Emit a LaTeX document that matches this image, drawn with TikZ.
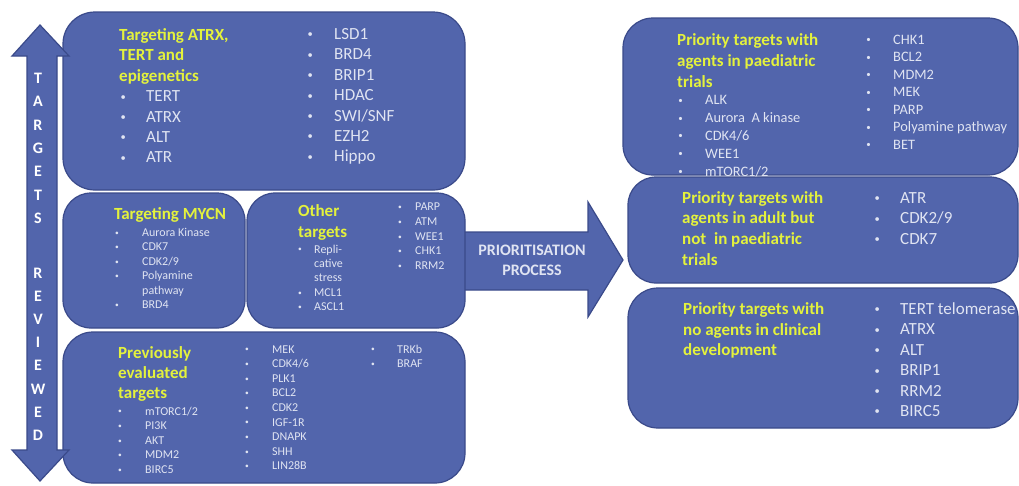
\documentclass[tikz,border=0pt]{standalone}
\usepackage{fontspec}
\setmainfont{Carlito}
\definecolor{panelblue}{RGB}{82,101,172}
\definecolor{paneledge}{RGB}{58,74,138}
\definecolor{headyellow}{RGB}{228,242,60}
\definecolor{itemgrey}{RGB}{224,228,242}
\newcommand{\bul}[2][28pt]{\makebox[#1][l]{\hspace{0.08em}\raisebox{0.1em}{\scalebox{0.62}{\textbullet}}}#2}
\begin{document}
\begin{tikzpicture}[x=1pt,y=-1pt,
    panel/.style={draw=paneledge,line width=1.2pt,fill=panelblue,rounded corners=#1},
    panel/.default=30pt,
    blockarrow/.style={draw=paneledge,line width=1.2pt,fill=panelblue},
    heading/.style={anchor=base west,inner sep=0,text=headyellow,font=\fontsize{17}{20}\selectfont\bfseries},
    itembig/.style={anchor=base west,inner sep=0,text=itemgrey,font=\fontsize{17}{20}\selectfont},
    itemmid/.style={anchor=base west,inner sep=0,text=itemgrey,font=\fontsize{14.4}{17}\selectfont},
    itemsmall/.style={anchor=base west,inner sep=0,text=itemgrey,font=\fontsize{12}{14}\selectfont},
    arrowtext/.style={align=center,inner sep=0,text=itemgrey,font=\fontsize{16}{20}\selectfont\bfseries},
    letter/.style={anchor=base,inner sep=0,text=white,font=\fontsize{16}{19}\selectfont\bfseries}
  ]
  \useasboundingbox (0,0) rectangle (1019,485);
  % prioritisation arrow, behind the panels
  \draw[blockarrow] (460,232) -- (588,232) -- (588,202) -- (623,260) -- (588,317)
    -- (588,290) -- (460,290) -- cycle;
  \node[arrowtext] (proc) at (532,260) {PRIORITISATION\\PROCESS};
  % left panels
  \node[panel=32pt,minimum width=402,minimum height=178] (epi) at (264,101) {};
  \node[panel=28pt,minimum width=182,minimum height=135] (mycn) at (154,260.5) {};
  \node[panel=28pt,minimum width=218,minimum height=135] (other) at (356,260.5) {};
  \node[panel,minimum width=402,minimum height=151] (prev) at (264,407.5) {};
  % right panels
  \node[panel,minimum width=395,minimum height=157] (paed) at (820.5,96.5) {};
  \node[panel=28pt,minimum width=390,minimum height=106] (adult) at (823,230) {};
  \node[panel,minimum width=390,minimum height=140] (none) at (823,358) {};
  % targets reviewed arrow
  \draw[blockarrow] (40,25) -- (69,56) -- (57,56) -- (57,450) -- (69,450) -- (40,481)
    -- (12,450) -- (27,450) -- (27,56) -- (12,56) -- cycle;
  \foreach \l [count=\i from 0] in {T,A,R,G,E,T,S}
    \node[letter] (tgt-\i) at (38,83.5+23.3*\i) {\l};
  \foreach \l [count=\i from 0] in {R,E,V,I,E,W,E,D}
    \node[letter] (rev-\i) at (38,278.5+23.1*\i) {\l};
  % ATRX, TERT and epigenetics
  \foreach \s [count=\i from 0] in {{Targeting ATRX,},TERT and,epigenetics}
    \node[heading] (epiT-\i) at (119,40.5+20.4*\i) {\s};
  \foreach \s [count=\i from 0] in {TERT,ATRX,ALT,ATR}
    \node[itembig] (epiL-\i) at (119,101.7+20.4*\i) {\bul[27pt]{\s}};
  \foreach \s [count=\i from 0] in {LSD1,BRD4,BRIP1,HDAC,SWI/SNF,EZH2,Hippo}
    \node[itembig] (epiR-\i) at (306,39.5+20.4*\i) {\bul{\s}};
  % MYCN
  \node[heading] (mycnT) at (114,219.5) {Targeting MYCN};
  \foreach \k/\s in {0/Aurora Kinase,1/CDK7,2/{CDK2/9},3/Polyamine,5/BRD4}
    \node[itemsmall] (mycn-\k) at (114,236.2+14.5*\k) {\bul{\s}};
  \node[itemsmall] (mycn-4) at (142,294.2) {pathway};
  % other targets
  \foreach \s [count=\i from 0] in {Other,targets}
    \node[heading] (othT-\i) at (298,216.5+20.5*\i) {\s};
  \foreach \k/\s in {0/Repli-,3/MCL1,4/ASCL1}
    \node[itemsmall] (othL-\k) at (297,253+14.4*\k) {\bul[17pt]{\s}};
  \node[itemsmall] (othL-1) at (314,267.4) {cative};
  \node[itemsmall] (othL-2) at (314,281.8) {stress};
  \foreach \s [count=\i from 0] in {PARP,ATM,WEE1,CHK1,RRM2}
    \node[itemsmall] (othR-\i) at (397,210.7+14.75*\i) {\bul[18pt]{\s}};
  % previously evaluated
  \foreach \s [count=\i from 0] in {Previously,evaluated,targets}
    \node[heading] (prevT-\i) at (118,358.5+20*\i) {\s};
  \foreach \s [count=\i from 0] in {mTORC1/2,PI3K,AKT,MDM2,BIRC5}
    \node[itemsmall] (prevL-\i) at (117,415+14.6*\i) {\bul{\s}};
  \foreach \s [count=\i from 0] in {MEK,CDK4/6,PLK1,BCL2,CDK2,IGF-1R,DNAPK,SHH,LIN28B}
    \node[itemsmall] (prevM-\i) at (244,353+14.6*\i) {\bul{\s}};
  \foreach \s [count=\i from 0] in {TRKb,BRAF}
    \node[itemsmall] (prevR-\i) at (370,353+14.6*\i) {\bul[27pt]{\s}};
  % paediatric trials
  \foreach \s [count=\i from 0] in {Priority targets with,agents in paediatric,trials}
    \node[heading] (paedT-\i) at (677,45.5+20.8*\i) {\s};
  \foreach \s [count=\i from 0] in {ALK,Aurora\ \ A kinase,CDK4/6,WEE1,mTORC1/2}
    \node[itemmid] (paedL-\i) at (677,104.6+17.9*\i) {\bul{\s}};
  \foreach \s [count=\i from 0] in {CHK1,BCL2,MDM2,MEK,PARP,Polyamine pathway,BET}
    \node[itemmid] (paedR-\i) at (865,44+17.5*\i) {\bul{\s}};
  % adult trials
  \foreach \s [count=\i from 0] in {Priority targets with,agents in adult but,not\ \ in paediatric,trials}
    \node[heading] (adultT-\i) at (682,203.2+20.7*\i) {\s};
  \foreach \s [count=\i from 0] in {ATR,CDK2/9,CDK7}
    \node[itembig] (adult-\i) at (873,203.2+20.6*\i) {\bul[27pt]{\s}};
  % no agents
  \foreach \s [count=\i from 0] in {Priority targets with,no agents in clinical,development}
    \node[heading] (noneT-\i) at (683,314.5+20.5*\i) {\s};
  \foreach \s [count=\i from 0] in {TERT telomerase,ATRX,ALT,BRIP1,RRM2,BIRC5}
    \node[itembig] (none-\i) at (873,314.5+20.4*\i) {\bul[27pt]{\s}};
\end{tikzpicture}
\end{document}
